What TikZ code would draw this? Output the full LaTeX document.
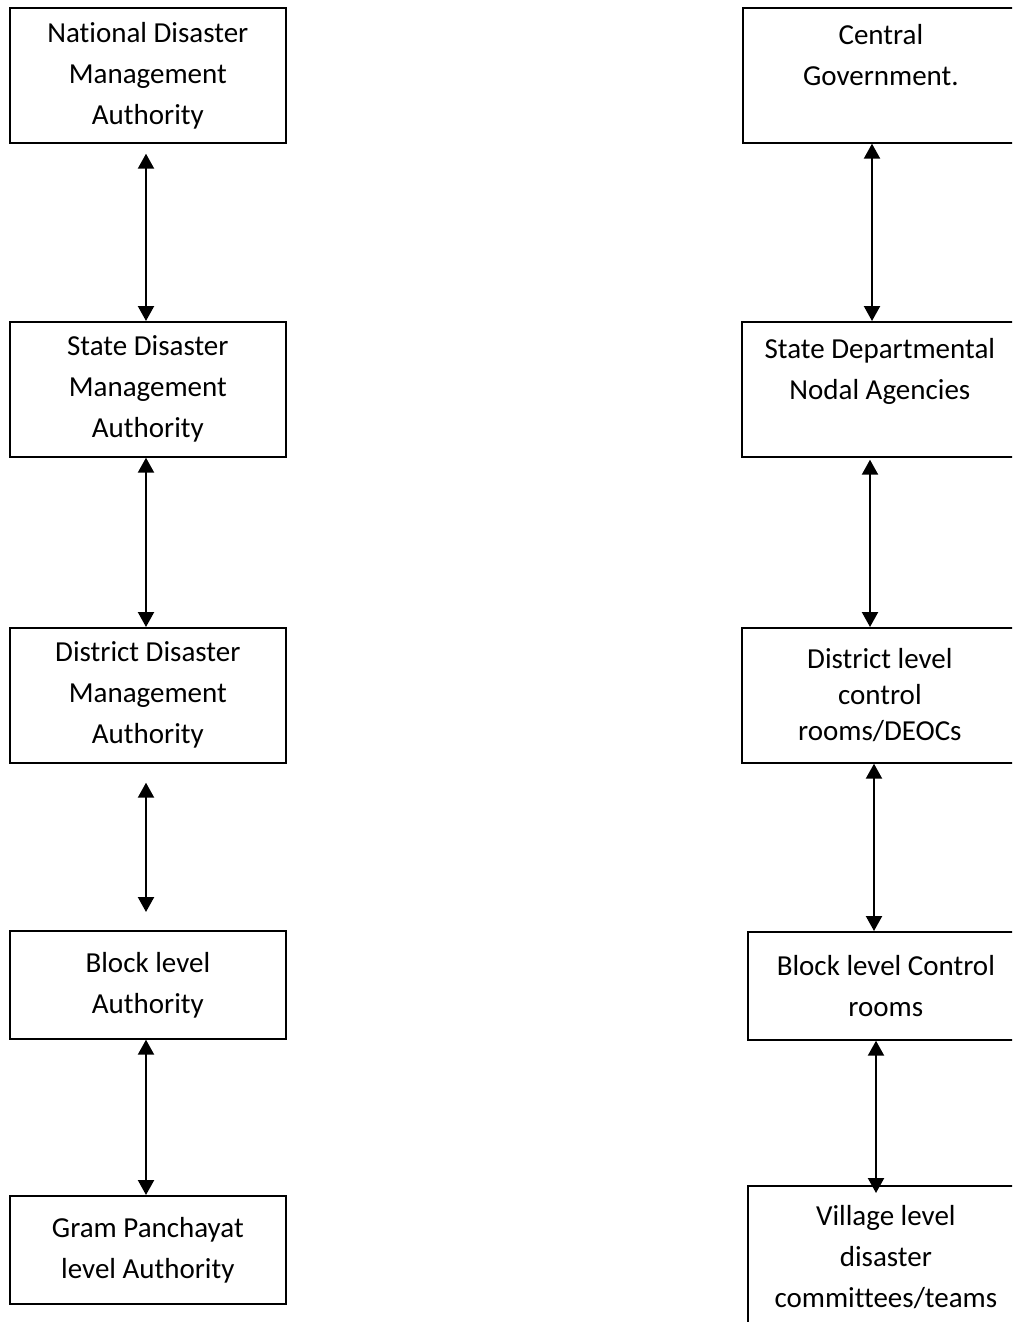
\documentclass[tikz,border=0pt]{standalone}
\usepackage{fontspec}
\setmainfont{Carlito}[Ligatures={NoCommon,NoContextual}]
\usetikzlibrary{arrows.meta}
\begin{document}
\begin{tikzpicture}[x=1pt,y=-1pt,
  box/.style={draw, line width=1.7pt, anchor=north west, inner sep=0pt,
    minimum width=276pt, align=center,
    font=\fontsize{29}{41}\selectfont},
  tall/.style={box, minimum height=135pt},
  short/.style={box, minimum height=108pt},
  arr/.style={{Triangle[width=16pt,length=15pt]}-{Triangle[width=16pt,length=15pt]}, line width=2.2pt}]
\useasboundingbox (0,0) rectangle (1012,1322);
\fill[white] (0,0) rectangle (1012,1322);
\begin{scope}
\clip (0,0) rectangle (1012,1322);

% left column: disaster management authorities
\node[tall]  (l1) at (9,7)    {National Disaster\\Management\\Authority};
\node[tall]  (l2) at (9,321)  {State Disaster\\Management\\Authority};
\node[tall]  (l3) at (9,627)  {District Disaster\\Management\\Authority};
\node[short] (l4) at (9,930)  {Block level\\Authority};
\node[short] (l5) at (9,1195) {Gram Panchayat\\level Authority};

% right column: government and control rooms
\node[tall]  (r1) at (742,7)   {Central\\Government.\\\mbox{}};
\node[tall]  (r2) at (741,321) {State Departmental\\Nodal Agencies\\\mbox{}};
\node[tall, font=\fontsize{29}{36}\selectfont] (r3) at (741,627)
  {District level\\control\\rooms/DEOCs};
\node[short] (r4) at (747,931) {Block level Control\\rooms};
\node[box, minimum height=142pt] (r5) at (747,1185)
  {Village level\\disaster\\committees/teams};

% arrow positions
\coordinate (lx)  at (146,0);
\coordinate (rx1) at (872,0);
\coordinate (rx2) at (870,0);
\coordinate (rx3) at (874,0);
\coordinate (rx4) at (876,0);

% left connectors
\draw[arr] ([yshift=-10pt]lx |- l1.south) -- (lx |- l2.north);
\draw[arr] (lx |- l2.south) -- (lx |- l3.north);
\draw[arr] ([yshift=-19pt]lx |- l3.south) -- ([yshift=18pt]lx |- l4.north);
\draw[arr] (lx |- l4.south) -- (lx |- l5.north);

% right connectors
\draw[arr] (rx1 |- r1.south) -- (rx1 |- r2.north);
\draw[arr] ([yshift=-2pt]rx2 |- r2.south) -- (rx2 |- r3.north);
\draw[arr] (rx3 |- r3.south) -- (rx3 |- r4.north);
\draw[arr] (rx4 |- r4.south) -- ([yshift=-8pt]rx4 |- r5.north);
\end{scope}
\end{tikzpicture}
\end{document}
